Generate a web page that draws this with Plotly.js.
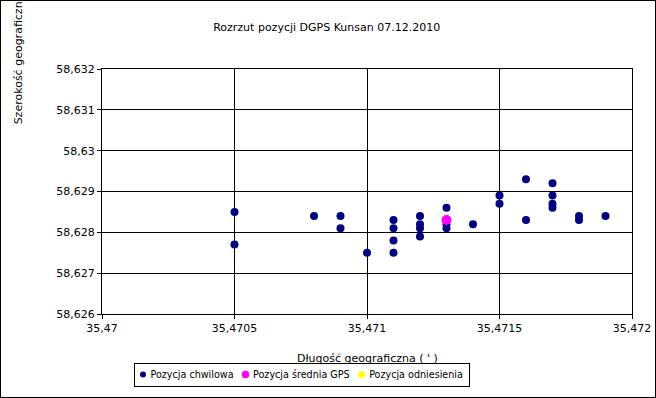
<!DOCTYPE html>
<html><head><meta charset="utf-8">
<script src="https://cdn.plot.ly/plotly-3.0.1.min.js"></script>
<style>html,body{margin:0;padding:0;background:#fff}#c{width:654px;height:396px;border:1px solid #000}</style>
</head><body><div id="c"></div>
<script>
const chwLon = [35.4705,35.4705,35.4708,35.4709,35.4709,35.4710,35.4711,35.4711,35.4711,35.4711,35.4712,35.4712,35.4712,35.4712,35.4713,35.4713,35.4713,35.4713,35.4714,35.4715,35.4715,35.4716,35.4716,35.4717,35.4717,35.4717,35.4717,35.4718,35.4718,35.4719];
const chwLat = [58.6285,58.6277,58.6284,58.6284,58.6281,58.6275,58.6283,58.6281,58.6278,58.6275,58.6284,58.6282,58.6281,58.6279,58.6286,58.6283,58.6282,58.6281,58.6282,58.6289,58.6287,58.6293,58.6283,58.6292,58.6289,58.6287,58.6286,58.6284,58.6283,58.6284];
const sredLon = [35.4713];
const sredLat = [58.6283];
const odnLon = [35.4713];
const odnLat = [58.6283];
const names = ['Pozycja chwilowa','Pozycja średnia GPS','Pozycja odniesienia'];
const xTicks = [35.47,35.4705,35.471,35.4715,35.472];
const xTickText = ['35,47','35,4705','35,471','35,4715','35,472'];
const yTicks = [58.626,58.627,58.628,58.629,58.63,58.631,58.632];
const yTickText = ['58,626','58,627','58,628','58,629','58,63','58,631','58,632'];

const font = {family:'DejaVu Sans', size:11, color:'#000'};
const data = [
  {x:odnLon, y:odnLat, mode:'markers', type:'scatter', name:names[2], legendrank:3, marker:{color:'#FFFF00', size:9}},
  {x:chwLon, y:chwLat, mode:'markers', type:'scatter', name:names[0], legendrank:1, marker:{color:'#000080', size:8}},
  {x:sredLon, y:sredLat, mode:'markers', type:'scatter', name:names[1], legendrank:2, marker:{color:'#FF00FF', size:10}}
];
const layout = {
  width:654, height:396,
  margin:{l:101, r:23, t:68, b:83, autoexpand:false},
  paper_bgcolor:'#fff', plot_bgcolor:'#fff',
  font:font,
  separators:', ',
  title:{text:'Rozrzut pozycji DGPS Kunsan 07.12.2010', font:{family:'DejaVu Sans', size:11, color:'#000'}, x:0.498, xanchor:'center', y:0.935, yanchor:'middle'},
  xaxis:{range:[35.47,35.472], tickvals:xTicks, ticktext:xTickText, showgrid:true, gridcolor:'#000', gridwidth:1, automargin:false,
    showline:true, linecolor:'#000', linewidth:1, mirror:true, ticks:'outside', ticklen:4, tickcolor:'#000', zeroline:false,
    tickfont:font},
  yaxis:{range:[58.626,58.632], tickvals:yTicks, ticktext:yTickText, showgrid:true, gridcolor:'#000', gridwidth:1, automargin:false,
    showline:true, linecolor:'#000', linewidth:1, mirror:true, ticks:'outside', ticklen:4, tickcolor:'#000', zeroline:false,
    tickfont:font},
  showlegend:true,
  legend:{orientation:'h', xref:'container', yref:'container', x:0.459, xanchor:'center', y:0.086, yanchor:'top', bordercolor:'#000', borderwidth:1,
    font:{family:'DejaVu Sans', size:9.6, color:'#000'}, itemwidth:30, tracegroupgap:0},
  annotations:[
    {text:'Szerokość geograficzna ( \' )', textangle:-90, xref:'paper', yref:'paper', x:-0.157, y:0.765, xanchor:'center', yanchor:'bottom', showarrow:false, font:font},
    {text:'Długość geograficzna ( \' )', xref:'paper', yref:'paper', x:0.5, y:-0.18, xanchor:'center', yanchor:'middle', showarrow:false, font:font}
  ]
};
const gd = document.getElementById('c');
Plotly.newPlot(gd, data, layout, {displayModeBar:false, staticPlot:true}).then(function(){
  // compact legend layout (symbol closer to text) like the reference
  const leg = gd.querySelector('.legend');
  if(!leg) return;
  const items = Array.from(leg.querySelectorAll('.traces'));
  items.sort(function(a,b){
    const ta = a.querySelector('.legendtext').textContent, tb = b.querySelector('.legendtext').textContent;
    return names.indexOf(ta) - names.indexOf(tb);
  });
  let x = 9, boxH = 23, cy = 11.5;
  items.forEach(function(it){
    const t = it.querySelector('.legendtext');
    const w = t.getComputedTextLength();
    it.setAttribute('transform', 'translate(' + (x - 20) + ',' + cy + ')');
    t.setAttribute('x', 27.5);
    it.querySelectorAll('.legendpoints path').forEach(function(p){
      const tr = p.getAttribute('transform') || '';
      p.setAttribute('transform', tr + ' scale(0.75)');
    });
    x += 7.5 + w + 12;
  });
  const boxW = x - 12 + 6;
  const bg = leg.querySelector('.bg');
  if(bg){ bg.setAttribute('width', boxW); bg.setAttribute('height', boxH); }
  const sb = leg.querySelector('.scrollbox');
  if(sb) sb.removeAttribute('clip-path');
  leg.setAttribute('transform', 'translate(133,362)');
});
</script></body></html>
